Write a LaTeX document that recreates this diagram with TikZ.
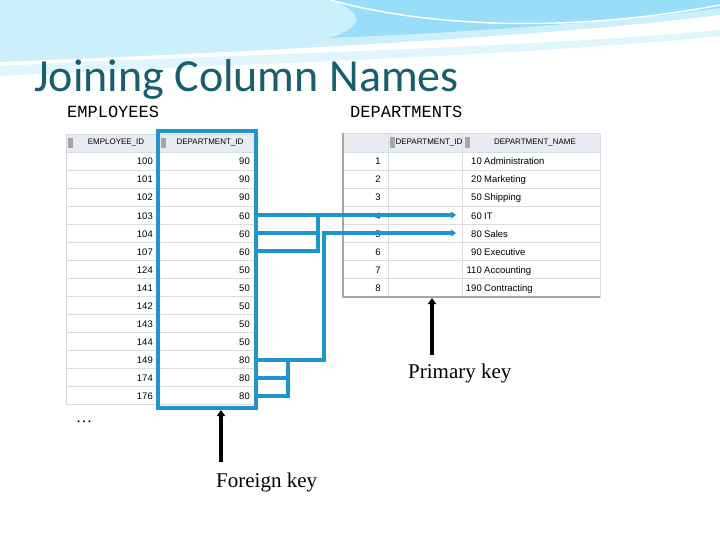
\documentclass[tikz,border=0pt]{standalone}
\usepackage{fontspec}
\setmainfont{Liberation Serif}
\newfontfamily\titlef{Carlito}
\newfontfamily\monof{Liberation Mono}
\newfontfamily\tabf{Liberation Sans}
\usetikzlibrary{arrows.meta}
\definecolor{hl}{RGB}{30,150,205}
\definecolor{ttl}{RGB}{23,95,110}
\definecolor{grid}{RGB}{215,220,225}
\definecolor{hdr}{RGB}{232,236,242}
\tikzset{
  cell/.style={font=\tabf\fontsize{9.5}{10}\selectfont, inner sep=1pt, anchor=base east},
  link/.style={draw=hl, line width=3.5pt},
  hd/.style={font=\tabf\fontsize{8}{9}\selectfont, inner sep=1pt},
}
\begin{document}
\begin{tikzpicture}[x=1pt,y=-1pt]
\useasboundingbox (0,0) rectangle (720,540);
\fill[white] (0,0) rectangle (720,540);
% decorative top waves
\fill[cyan!20] (0,0) -- (720,0) -- (720,15) .. controls (560,35) and (300,50) .. (0,62) -- cycle;
\fill[cyan!40] (330,0) -- (720,0) -- (720,8) .. controls (620,22) and (470,32) .. (330,38) .. controls (370,25) and (360,10) .. (330,0);
\fill[cyan!12] (0,66) .. controls (200,55) and (500,50) .. (720,30) -- (720,36) .. controls (500,58) and (200,65) .. (0,76) -- cycle;
\draw[white, line width=1.5pt] (330,0) .. controls (420,25) and (560,35) .. (720,5);
\node[anchor=base west, inner sep=0, text=ttl, font=\titlef\fontsize{46}{46}\selectfont] (title) at (34,92) {Joining Column Names};
\node[anchor=base west, inner sep=0, font=\monof\fontsize{17}{17}\selectfont] (emp) at (67,118) {EMPLOYEES};
\node[anchor=base west, inner sep=0, font=\monof\fontsize{17}{17}\selectfont] (dep) at (350,118) {DEPARTMENTS};
% left table
\fill[hdr] (66,134) rectangle (256,152);
\draw[grid] (66,134) rectangle (256,404);
\foreach \i in {0,...,14} \draw[grid] (66,152+18*\i) -- (256,152+18*\i);
\draw[grid] (158,134) -- (158,404);
\fill[gray!70] (68,138) rectangle (73,148); \fill[gray!70] (161,138) rectangle (166,148);
\node[hd] (h1) at (116,143) {EMPLOYEE\_ID};
\node[hd] (h2) at (210,143) {DEPARTMENT\_ID};
\foreach [count=\i] \e/\d in {100/90,101/90,102/90,103/60,104/60,107/60,124/50,141/50,142/50,143/50,144/50,149/80,174/80,176/80}{
  \node[cell] (e\i) at (154,147+18*\i) {\e};
  \node[cell] (d\i) at (251,147+18*\i) {\d};
}
\draw[hl, line width=3.5pt] (158,131) rectangle (256,408);
% right table
\fill[hdr] (343,133) rectangle (600,152);
\draw[grid] (343,133) rectangle (600,297);
\foreach \i in {0,...,8} \draw[grid] (343,152+18*\i) -- (600,152+18*\i);
\draw[grid] (388,133) -- (388,297); \draw[grid] (462,133) -- (462,297);
\draw[gray!70, line width=1.5pt] (343,133) -- (343,297) -- (600,297);
\fill[gray!70] (390,137) rectangle (395,148); \fill[gray!70] (465,137) rectangle (470,148);
\node[hd] (h3) at (429,143) {DEPARTMENT\_ID};
\node[hd] (h4) at (535,143) {DEPARTMENT\_NAME};
\foreach [count=\i] \d/\n in {10/Administration,20/Marketing,50/Shipping,60/IT,80/Sales,90/Executive,110/Accounting,190/Contracting}{
  \node[cell, anchor=base] (r\i) at (378,147+18*\i) {\i};
  \node[cell] (rd\i) at (483,147+18*\i) {\d};
  \node[cell, anchor=base west] (rn\i) at (483,147+18*\i) {\n};
}
% connectors
\coordinate (a1) at (256,215); \coordinate (a2) at (256,233); \coordinate (a3) at (256,251);
\coordinate (b1) at (256,360); \coordinate (b2) at (256,378); \coordinate (b3) at (256,396);
\coordinate (t60) at (456,215); \coordinate (t80) at (456,233);
\draw[link] (a1) -| (318,251) -- (a3);
\draw[link] (a2) -- (318,233);
\draw[link, -{Triangle[length=5pt,width=7pt]}] (308,215) -- (t60);
\draw[link] (b3) -| (288,360);
\draw[link] (b2) -- (288,378);
\draw[link, -{Triangle[length=5pt,width=7pt]}] (b1) -| (324,233) -- (t80);
% keys
\node[anchor=base west, inner sep=0, font=\fontsize{21}{21}\selectfont] (pk) at (408,378) {Primary key};
\node[anchor=base west, inner sep=0, font=\fontsize{21}{21}\selectfont] (fk) at (216,487) {Foreign key};
\coordinate (pkt) at (432,298); \coordinate (pkb) at (432,355);
\coordinate (fkt) at (221,410); \coordinate (fkb) at (221,462);
\draw[line width=3.5pt, -{Triangle[length=6pt,width=8pt]}] (pkb) -- (pkt);
\draw[line width=3.5pt, -{Triangle[length=6pt,width=8pt]}] (fkb) -- (fkt);
\node[font=\fontsize{16}{16}\selectfont, inner sep=0] (dots) at (84,422) {\dots};
\end{tikzpicture}
\end{document}
